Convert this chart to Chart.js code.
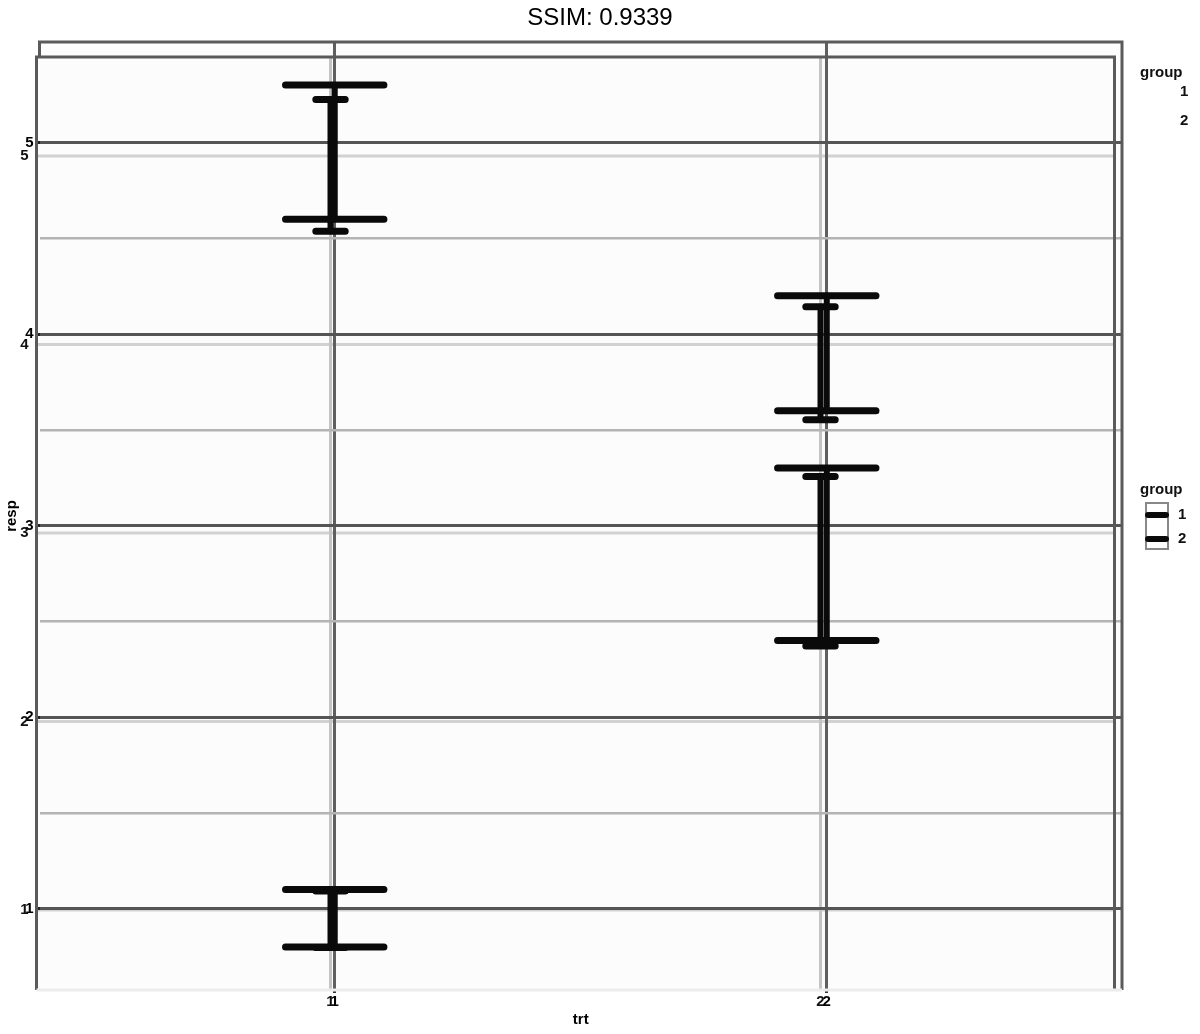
<!DOCTYPE html>
<html>
<head>
<meta charset="utf-8">
<script src="https://cdn.jsdelivr.net/npm/chart.js@4.4.1/dist/chart.umd.min.js"></script>
<style>
  html, body { margin: 0; padding: 0; background: #ffffff; }
  #wrap { width: 1200px; height: 1034px; }
</style>
</head>
<body>
<div id="wrap"><canvas id="myChart" width="1200" height="1034"></canvas></div>
<script>
// datos del gráfico
const trt = [1, 1, 2, 2];
const resp = [1, 5, 3, 4];
const group = ['1', '2', '1', '2'];
const upper = [1.1, 5.3, 3.3, 4.2];
const lower = [0.8, 4.6, 2.4, 3.6];
const xLabels = ['1', '2'];
const yTicks = [1, 1.5, 2, 2.5, 3, 3.5, 4, 4.5, 5];
const legendItems = ['1', '2'];
const xRange = [0.4, 2.6];
const yRange = [0.575, 5.525];

const FONT = 'Liberation Sans, Arial, sans-serif';
const isMajor = v => Math.abs(v - Math.round(v)) < 1e-6;

// dibuja fondo, bordes, barras de error y leyenda
const errorBars = {
    id: 'errorBars',
    beforeDraw(chart) {
        const { ctx, chartArea: a } = chart;
        const x2 = chart.scales.x2, y2 = chart.scales.y2;
        ctx.save();
        ctx.fillStyle = '#ffffff';
        ctx.fillRect(0, 0, chart.width, chart.height);
        ctx.fillStyle = '#fcfcfc';
        ctx.fillRect(a.left, a.top, a.right - a.left, a.bottom - a.top);
        // lineas fantasma (segunda imagen)
        const gl = x2.getPixelForValue(xRange[0]), gr = x2.getPixelForValue(xRange[1]);
        ctx.strokeStyle = '#d2d2d2';
        ctx.lineWidth = 3;
        yTicks.filter(isMajor).forEach(v => {
            const p = y2.getPixelForValue(v);
            ctx.beginPath(); ctx.moveTo(gl, p); ctx.lineTo(gr, p); ctx.stroke();
        });
        ctx.strokeStyle = '#c4c4c4';
        xLabels.forEach((l, i) => {
            const p = x2.getPixelForValue(i + 1);
            ctx.beginPath(); ctx.moveTo(p, y2.getPixelForValue(yRange[1])); ctx.lineTo(p, a.bottom); ctx.stroke();
        });
        ctx.restore();
    },
    afterDatasetsDraw(chart) {
        const { ctx, chartArea: a } = chart;
        const xs = chart.scales.x, ys = chart.scales.y;
        const x2 = chart.scales.x2, y2 = chart.scales.y2;
        ctx.save();
        // bordes del panel principal
        ctx.strokeStyle = '#5a5a5a';
        ctx.lineWidth = 3;
        ctx.beginPath();
        ctx.moveTo(a.left, a.top + 16); ctx.lineTo(a.left, a.top);
        ctx.lineTo(a.right, a.top); ctx.lineTo(a.right, a.bottom);
        ctx.stroke();
        // bordes del panel fantasma
        const gl = x2.getPixelForValue(xRange[0]), gr = x2.getPixelForValue(xRange[1]);
        const gt = y2.getPixelForValue(yRange[1]);
        ctx.beginPath();
        ctx.moveTo(gl, a.bottom); ctx.lineTo(gl, gt);
        ctx.lineTo(gr, gt); ctx.lineTo(gr, a.bottom);
        ctx.stroke();
        ctx.strokeStyle = '#ececec';
        ctx.beginPath(); ctx.moveTo(gl, a.bottom); ctx.lineTo(a.right, a.bottom); ctx.stroke();

        ctx.lineCap = 'round';
        ctx.strokeStyle = '#0a0a0a';
        // capa fantasma: bigotes estrechos
        for (let i = 0; i < trt.length; i++) {
            const cx = x2.getPixelForValue(trt[i]);
            const w = x2.getPixelForValue(trt[i] + 0.03) - cx;
            const yu = y2.getPixelForValue(upper[i]);
            const yl = y2.getPixelForValue(lower[i]);
            ctx.lineWidth = 7;
            ctx.beginPath();
            ctx.moveTo(cx - w, yu); ctx.lineTo(cx + w, yu);
            ctx.moveTo(cx - w, yl); ctx.lineTo(cx + w, yl);
            ctx.stroke();
            ctx.lineWidth = 6;
            ctx.beginPath(); ctx.moveTo(cx, yu); ctx.lineTo(cx, yl); ctx.stroke();
        }
        // capa principal
        for (let i = 0; i < trt.length; i++) {
            const cx = xs.getPixelForValue(trt[i]);
            const w = xs.getPixelForValue(trt[i] + 0.1) - cx;
            const yu = ys.getPixelForValue(upper[i]);
            const yl = ys.getPixelForValue(lower[i]);
            ctx.lineWidth = 7;
            ctx.beginPath();
            ctx.moveTo(cx - w, yu); ctx.lineTo(cx + w, yu);
            ctx.moveTo(cx - w, yl); ctx.lineTo(cx + w, yl);
            ctx.stroke();
            ctx.lineWidth = 6;
            ctx.beginPath(); ctx.moveTo(cx, yu); ctx.lineTo(cx, yl); ctx.stroke();
        }

        // etiquetas fantasma de los ejes
        ctx.fillStyle = '#111';
        ctx.font = 'bold 15px ' + FONT;
        ctx.textAlign = 'right';
        ctx.textBaseline = 'middle';
        yTicks.filter(isMajor).forEach(v => {
            ctx.fillText(String(v), gl - 8, y2.getPixelForValue(v));
        });
        ctx.textAlign = 'center';
        xLabels.forEach((l, i) => ctx.fillText(l, x2.getPixelForValue(i + 1), a.bottom + 12));

        // leyendas
        const lx = 1140;
        ctx.textAlign = 'left';
        ctx.fillText('group', lx, 73);
        legendItems.forEach((t, k) => ctx.fillText(t, lx + 40, 92 + k * 29));
        ctx.fillText('group', lx, 490);
        ctx.strokeStyle = '#888';
        ctx.lineWidth = 2;
        ctx.strokeRect(lx + 6, 503, 22, 46);
        ctx.lineWidth = 6;
        ctx.strokeStyle = '#0a0a0a';
        legendItems.forEach((t, k) => {
            const yy = 515 + k * 24;
            ctx.beginPath(); ctx.moveTo(lx + 8, yy); ctx.lineTo(lx + 26, yy); ctx.stroke();
            ctx.fillText(t, lx + 38, yy);
        });
        ctx.restore();
    }
};

const ctx = document.getElementById('myChart').getContext('2d');
const myChart = new Chart(ctx, {
    type: 'scatter',
    data: {
        datasets: [{
            label: 'resp',
            data: trt.map((t, i) => ({ x: t, y: resp[i] })),
            pointRadius: 0,
            showLine: false
        }]
    },
    options: {
        responsive: false,
        animation: false,
        layout: { padding: 0 },
        plugins: {
            legend: { display: false },
            tooltip: { enabled: false },
            title: {
                display: true,
                text: 'SSIM: 0.9339',
                color: '#000',
                font: { family: FONT, size: 24, weight: 'normal' },
                padding: { top: 4, bottom: 9.2 }
            }
        },
        scales: {
            x: {
                type: 'linear',
                min: xRange[0], max: xRange[1],
                afterFit: s => { s.height = 44; },
                afterBuildTicks: s => { s.ticks = xLabels.map((l, i) => ({ value: i + 1 })); },
                ticks: {
                    callback: v => xLabels[v - 1],
                    color: '#000',
                    font: { family: FONT, size: 15, weight: 'bold' },
                    padding: 0,
                    maxRotation: 0
                },
                grid: { color: '#5f5f5f', lineWidth: 3, tickLength: 3, tickColor: '#333' },
                border: { display: false },
                title: {
                    display: true, text: 'trt', color: '#000',
                    font: { family: FONT, size: 15, weight: 'bold' },
                    padding: { top: 0, bottom: 5 }
                }
            },
            y: {
                type: 'linear',
                min: yRange[0], max: yRange[1],
                afterFit: s => { s.width = 39.5; },
                afterBuildTicks: s => { s.ticks = yTicks.map(v => ({ value: v })); },
                ticks: {
                    callback: v => isMajor(v) ? String(Math.round(v)) : '',
                    color: '#000',
                    font: { family: FONT, size: 15, weight: 'bold' },
                    padding: 3
                },
                grid: {
                    color: c => isMajor(c.tick.value) ? '#555' : '#b4b4b4',
                    lineWidth: c => isMajor(c.tick.value) ? 3 : 2.5,
                    tickLength: 3,
                    tickColor: c => isMajor(c.tick.value) ? '#222' : 'rgba(0,0,0,0)'
                },
                border: { display: false },
                title: {
                    display: true, text: 'resp', color: '#000',
                    font: { family: FONT, size: 15, weight: 'bold' },
                    padding: { top: 3, bottom: 0 }
                }
            },
            // espacio reservado para la leyenda
            yLegend: {
                type: 'linear', position: 'right', display: true,
                afterFit: s => { s.width = 78; },
                ticks: { display: false },
                grid: { display: false },
                border: { display: false }
            },
            // escalas ocultas de la segunda imagen superpuesta
            x2: { type: 'linear', display: false, min: 0.4061, max: 2.6153 },
            y2: { type: 'linear', display: false, min: 0.575, max: 5.6046 }
        }
    },
    plugins: [errorBars]
});
</script>
</body>
</html>
